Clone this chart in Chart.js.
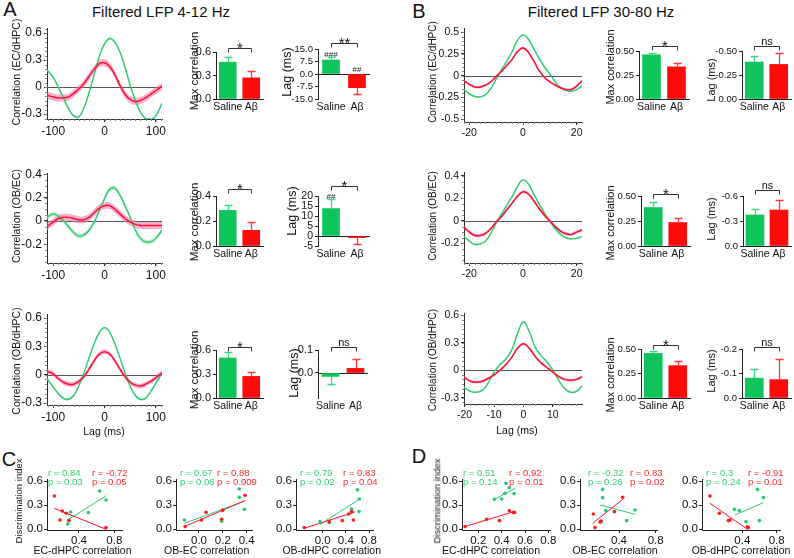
<!DOCTYPE html>
<html>
<head>
<meta charset="utf-8">
<script src="https://cdn.jsdelivr.net/npm/chart.js@4.4.1/dist/chart.umd.min.js"></script>
<style>
html,body{margin:0;padding:0;background:#fff;}
#fig{position:relative;width:794px;height:558px;overflow:hidden;background:#fff;font-family:"Liberation Sans",Arial,Helvetica,sans-serif;color:#111;}
#fig canvas{position:absolute;}
.t{position:absolute;white-space:nowrap;line-height:1;}
</style>
</head>
<body>
<div id="fig"></div>
<script>
// ================= DATA =================
const groups = ['Saline', 'Aβ'];

// ---- Panel A: filtered LFP 4-12 Hz, cross-correlation vs lag (ms)
const lagsA = [-112,-100,-90,-80,-70,-60,-50,-40,-30,-20,-10,0,10,20,30,40,50,60,70,80,90,100,112];
const a1Saline = [0.19,0.11,0.00,-0.12,-0.24,-0.32,-0.33,-0.23,-0.06,0.14,0.34,0.48,0.54,0.50,0.39,0.22,0.02,-0.15,-0.28,-0.35,-0.36,-0.32,-0.18];
const a1Abeta  = [-0.09,-0.11,-0.12,-0.12,-0.11,-0.07,-0.02,0.04,0.12,0.20,0.26,0.27,0.23,0.14,0.02,-0.08,-0.14,-0.16,-0.15,-0.12,-0.08,-0.04,0.01];
const a2Saline = [0.03,0.06,0.04,0.00,-0.05,-0.10,-0.13,-0.12,-0.08,-0.01,0.09,0.19,0.27,0.28,0.22,0.13,0.03,-0.08,-0.15,-0.18,-0.18,-0.15,-0.08];
const a2Abeta  = [-0.05,-0.01,0.02,0.03,0.03,0.02,0.01,0.01,0.03,0.07,0.11,0.13,0.13,0.10,0.06,0.02,-0.01,-0.03,-0.04,-0.04,-0.04,-0.04,-0.04];
const a3Saline = [-0.04,-0.13,-0.20,-0.25,-0.26,-0.22,-0.12,0.02,0.18,0.33,0.45,0.50,0.45,0.33,0.18,0.02,-0.12,-0.22,-0.26,-0.25,-0.18,-0.09,0.02];
const a3Abeta  = [0.035,0.01,-0.04,-0.08,-0.10,-0.10,-0.07,-0.02,0.06,0.15,0.22,0.245,0.22,0.15,0.06,-0.02,-0.08,-0.11,-0.12,-0.10,-0.07,-0.03,0.02];
const semA = {a1:[0.015,0.04], a2:[0.02,0.03], a3:[0.012,0.025]};

// ---- Panel B: filtered LFP 30-80 Hz
const lagsB = [-22,-20,-18,-16,-14,-12,-10,-8,-6,-4,-2,0,2,4,6,8,10,12,14,16,18,20,22];
const b1Saline = [-0.16,-0.21,-0.24,-0.245,-0.22,-0.15,-0.04,0.07,0.17,0.28,0.41,0.47,0.42,0.31,0.20,0.10,0.02,-0.07,-0.14,-0.17,-0.18,-0.16,-0.12];
const b1Abeta  = [-0.06,-0.10,-0.13,-0.13,-0.11,-0.07,-0.01,0.05,0.12,0.19,0.28,0.32,0.27,0.17,0.06,-0.02,-0.07,-0.11,-0.14,-0.16,-0.16,-0.12,-0.06];
const b2Saline = [-0.14,-0.18,-0.21,-0.205,-0.18,-0.11,-0.02,0.06,0.14,0.22,0.31,0.365,0.33,0.24,0.15,0.07,0.00,-0.07,-0.12,-0.15,-0.16,-0.155,-0.14];
const b2Abeta  = [-0.055,-0.10,-0.13,-0.13,-0.11,-0.07,-0.01,0.04,0.10,0.16,0.22,0.26,0.24,0.18,0.11,0.05,0.00,-0.05,-0.09,-0.115,-0.12,-0.10,-0.08];
const b3Saline = [-0.13,-0.19,-0.23,-0.24,-0.22,-0.14,-0.02,0.06,0.12,0.22,0.40,0.53,0.42,0.25,0.16,0.09,0.00,-0.11,-0.20,-0.24,-0.23,-0.17,-0.12];
const b3Abeta  = [-0.05,-0.08,-0.12,-0.13,-0.12,-0.09,-0.05,0.00,0.06,0.14,0.24,0.29,0.24,0.15,0.08,0.03,-0.02,-0.07,-0.10,-0.11,-0.10,-0.07,-0.04];
const semB = [0.008, 0.014];

// ---- Bar summaries [Saline, Aβ]
const a1MaxMean=[0.47,0.27],  a1MaxSem=[0.065,0.085];
const a1LagMean=[8.4,-8.2],   a1LagSem=[1.7,3.8];
const a2MaxMean=[0.285,0.125],a2MaxSem=[0.045,0.068];
const a2LagMean=[13.7,-0.8],  a2LagSem=[5.0,3.0];
const a3MaxMean=[0.50,0.27],  a3MaxSem=[0.075,0.05];
const a3LagMean=[-0.015,0.02],a3LagSem=[0.035,0.04];
const b1MaxMean=[0.46,0.335], b1MaxSem=[0.02,0.045];
const b1LagMean=[-0.385,-0.36],b1LagSem=[0.065,0.12];
const b2MaxMean=[0.385,0.235],b2MaxSem=[0.055,0.05];
const b2LagMean=[-0.372,-0.432],b2LagSem=[0.068,0.12];
const b3MaxMean=[0.455,0.33], b3MaxSem=[0.025,0.05];
const b3LagMean=[-0.081,-0.075],b3LagSem=[0.039,0.085];

// ---- Tick labels
const tkLagA=[-100,0,100], tkLagB=[-20,0,20], tkLagB3=[-20,-10,0,10];
const tkCorrA1=[-0.3,0,0.3,0.6], tkCorrA2=[-0.2,0,0.2,0.4], tkCorrA3=[-0.3,0,0.3,0.6];
const tkCorrB1=[-0.5,-0.25,0,0.25,0.5], tkCorrB2=[-0.2,0,0.2,0.4], tkCorrB3=[-0.3,0,0.3,0.6];
const tkMaxA1=[0,0.3,0.6], tkMaxA2=[0,0.2,0.4], tkMaxA3=[0,0.3,0.6];
const tkLagBarA1=[-15,-7.5,0,7.5,15], tkLagBarA2=[-5,0,5,10,15,20], tkLagBarA3=[0,0.1];
const tkMaxB=[0,0.25,0.5];
const tkLagBarB1=[-0.5,-0.25,0], tkLagBarB2=[-0.6,-0.3,0], tkLagBarB3=[-0.2,-0.1,0];
const tkDI=[0,0.3,0.6];

// ---- Panels C & D: discrimination index vs correlation (Saline = green, Aβ = red)
const c1SalX=[0.272,0.306,0.506,0.634,0.706,0.285], c1SalY=[0.066,0.215,0.207,0.476,0.364,0.11];
const c1AbX=[0.121,0.185,0.211,0.257,0.287,0.706],  c1AbY=[0.414,0.116,0.228,0.199,0.108,0.021];
const c1SalFitX=[0.26,0.71], c1SalFitY=[0.108,0.418];
const c1AbFitX=[0.121,0.706], c1AbFitY=[0.26,0.0];
const c2SalX=[-0.123,0.19,0.199,0.338,0.338,0.38], c2SalY=[0.116,0.099,0.24,0.50,0.397,0.248];
const c2AbX=[-0.117,0.02,0.059,0.19,0.199,0.386],  c2AbY=[0.033,0.116,0.211,0.124,0.235,0.422];
const c2SalFitX=[-0.123,0.386], c2SalFitY=[0.074,0.352];
const c2AbFitX=[-0.123,0.386], c2AbFitY=[0.033,0.356];
const c3SalX=[-0.046,0.115,0.50,0.60,0.633,0.627], c3SalY=[0.095,0.083,0.25,0.49,0.376,0.22];
const c3AbX=[-0.317,0.115,0.34,0.45,0.50,0.53],    c3AbY=[0.021,0.095,0.108,0.19,0.22,0.116];
const c3SalFitX=[-0.046,0.645], c3SalFitY=[0.06,0.38];
const c3AbFitX=[-0.317,0.555], c3AbFitY=[0.012,0.215];
const d1SalX=[0.337,0.40,0.429,0.437,0.463,0.506], d1SalY=[0.372,0.376,0.447,0.571,0.517,0.443];
const d1AbX=[0.086,0.271,0.38,0.466,0.50,0.51],     d1AbY=[0.033,0.124,0.108,0.23,0.207,0.21];
const d1SalFitX=[0.329,0.514], d1SalFitY=[0.364,0.509];
const d1AbFitX=[0.086,0.50], d1AbFitY=[0.033,0.219];
const d2SalX=[0.222,0.222,0.207,0.255,0.484,0.575], d2SalY=[0.496,0.393,0.095,0.232,0.107,0.24];
const d2AbX=[0.12,0.138,0.204,0.349,0.44,0.193],    d2AbY=[0.19,0.021,0.103,0.219,0.397,0.091];
const d2SalFitX=[0.193,0.575], d2SalFitY=[0.302,0.186];
const d2AbFitX=[0.113,0.44], d2AbFitY=[0.074,0.372];
const d3SalX=[0.307,0.365,0.443,0.598,0.575,0.645], d3SalY=[0.248,0.232,0.095,0.108,0.496,0.393];
const d3AbX=[0.023,0.132,0.237,0.256,0.47,0.46],    d3AbY=[0.414,0.199,0.108,0.116,0.021,0.03];
const d3SalFitX=[0.315,0.645], d3SalFitY=[0.178,0.331];
const d3AbFitX=[0.023,0.458], d3AbFitY=[0.323,0.0];
const statsSal = [['r = 0.84','p = 0.03'],['r = 0.67','p = 0.06'],['r = 0.79','p = 0.02'],['r = 0.51','p = 0.14'],['r = -0.32','p = 0.26'],['r = 0.3','p = 0.24']];
const statsAb  = [['r = -0.72','p = 0.05'],['r = 0.88','p = 0.009'],['r = 0.83','p = 0.04'],['r = 0.92','p = 0.01'],['r = 0.83','p = 0.02'],['r = -0.91','p = 0.01']];

// ================= STYLE / HELPERS =================
const FONT='"Liberation Sans", Arial, Helvetica, sans-serif';
Chart.defaults.font.family = FONT;
Chart.defaults.color = '#111';
const GREEN='#10c45c', RED='#ff0a0a', GERR='#3fd88a', RERR='#ff3a3a';
const GLINE='#2ccb6e', RLINE='#ff1030';
const GBAND='rgba(160,225,180,0.6)', RBAND='rgba(240,110,170,0.55)';
const GPT='#25c96c', RPT='#ff1a1a';
const AX='#333';
const fig=document.getElementById('fig');

function txt(s, x, y, size, o={}){
  const d=document.createElement('div');
  d.className='t'; d.textContent=s; d.style.fontSize=size+'px';
  d.style.color=o.color||'#111';
  d.style.left=x+'px'; d.style.top=y+'px';
  d.style.transform = o.rot ? 'translate(-50%,-50%) rotate(-90deg)' : (o.left ? 'translate(0,-50%)' : 'translate(-50%,-50%)');
  fig.appendChild(d);
}
function fixTicks(vals){ return s=>{ s.ticks = vals.map(v=>({value:v})); }; }
const fmtPlain = v => (Math.abs(v)<1e-9 ? '0' : String(Math.round(v*1000)/1000));
const fmtDec = d => v => Number(v).toFixed(d);

function place(area, pad, cfg){
  const [x0,y0,x1,y1]=area;
  const w=x1-x0+pad.l+pad.r, h=y1-y0+pad.t+pad.b;
  const c=document.createElement('canvas');
  c.width=w; c.height=h;
  c.style.left=(x0-pad.l)+'px'; c.style.top=(y0-pad.t)+'px';
  c.style.width=w+'px'; c.style.height=h+'px';
  fig.appendChild(c);
  const o=cfg.options;
  o.responsive=false; o.maintainAspectRatio=false; o.animation=false; o.devicePixelRatio=1;
  o.layout={padding:{left:0,top:pad.t,right:pad.r,bottom:0}};
  o.plugins=Object.assign({legend:{display:false},tooltip:{enabled:false}},o.plugins||{});
  o.scales.x.afterFit=s=>{s.height=pad.b;};
  o.scales.y.afterFit=s=>{s.width=pad.l;};
  return new Chart(c,cfg);
}

// zero reference line + fine minor ticks along the axes (line charts)
function makeLinePlugin(minorX, minorY){
  return {
    id:'lineDeco',
    beforeDatasetsDraw(chart){
      const {ctx,chartArea:a,scales:{x,y}}=chart;
      ctx.save();
      const py=Math.round(y.getPixelForValue(0))+0.5;
      ctx.strokeStyle='#555'; ctx.lineWidth=1;
      ctx.beginPath(); ctx.moveTo(a.left,py); ctx.lineTo(a.right,py); ctx.stroke();
      ctx.strokeStyle='#888'; ctx.lineWidth=1;
      ctx.beginPath();
      for(let v=Math.ceil(y.min/minorY)*minorY; v<=y.max+1e-9; v+=minorY){
        const p=Math.round(y.getPixelForValue(v))+0.5;
        ctx.moveTo(a.left-2,p); ctx.lineTo(a.left,p);
      }
      for(let v=Math.ceil(x.min/minorX)*minorX; v<=x.max+1e-9; v+=minorX){
        const p=Math.round(x.getPixelForValue(v))+0.5;
        ctx.moveTo(p,a.bottom); ctx.lineTo(p,a.bottom+2);
      }
      ctx.stroke();
      ctx.restore();
    }
  };
}

function lineChart(area, pad, c){
  const P=(arr,off)=>c.lags.map((l,i)=>({x:l,y:arr[i]+off}));
  const base={pointRadius:0,tension:0.4,borderWidth:0};
  const ds=[
    Object.assign({},base,{data:P(c.sal,c.sem[0]),fill:'+1',backgroundColor:GBAND,order:4}),
    Object.assign({},base,{data:P(c.sal,-c.sem[0]),fill:false,order:4}),
    Object.assign({},base,{data:P(c.ab,c.sem[1]),fill:'+1',backgroundColor:RBAND,order:3}),
    Object.assign({},base,{data:P(c.ab,-c.sem[1]),fill:false,order:3}),
    Object.assign({},base,{data:P(c.sal,0),borderColor:GLINE,borderWidth:1.4,fill:false,order:1}),
    Object.assign({},base,{data:P(c.ab,0),borderColor:RLINE,borderWidth:1.5,fill:false,order:0}),
  ];
  const axis=(vals,fmt,size)=>({
    afterBuildTicks:fixTicks(vals),
    ticks:{font:{size},color:'#111',padding:2,autoSkip:false,maxRotation:0,callback:fmt},
    grid:{drawOnChartArea:false,drawTicks:true,tickLength:3,color:AX},
    border:{display:true,color:AX,width:1}
  });
  return place(area,pad,{
    type:'line',
    data:{datasets:ds},
    options:{
      scales:{
        x:Object.assign({type:'linear',min:c.xr[0],max:c.xr[1]},axis(c.xt,fmtPlain,c.fs)),
        y:Object.assign({type:'linear',min:c.yr[0],max:c.yr[1]},axis(c.yt,fmtPlain,c.fs))
      }
    },
    plugins:[makeLinePlugin(c.mx,c.my)]
  });
}

function barChart(area, pad, c){
  const deco={
    id:'barDeco',
    beforeDatasetsDraw(chart){
      if(!c.zero) return;
      const {ctx,chartArea:a,scales:{y}}=chart;
      const py=Math.round(y.getPixelForValue(0))+0.5;
      ctx.save(); ctx.strokeStyle='#222'; ctx.lineWidth=1;
      ctx.beginPath(); ctx.moveTo(a.left,py); ctx.lineTo(a.right,py); ctx.stroke(); ctx.restore();
    },
    afterDatasetsDraw(chart){
      const {ctx,chartArea:a,scales:{x,y}}=chart;
      ctx.save();
      const capY=[];
      c.means.forEach((m,i)=>{
        const cx=Math.round(x.getPixelForValue(i))+0.5;
        const s=m<0?-1:1;
        const yb=y.getPixelForValue(m);
        const ye=Math.round(y.getPixelForValue(m+s*c.sem[i]))+0.5;
        capY.push(ye);
        ctx.strokeStyle=i===0?GERR:RERR; ctx.lineWidth=1.3;
        ctx.beginPath(); ctx.moveTo(cx,yb); ctx.lineTo(cx,ye); ctx.moveTo(cx-4,ye); ctx.lineTo(cx+4,ye); ctx.stroke();
      });
      if(c.sig){
        const by=Math.round(a.top-c.sigOff)+0.5;
        const x0=Math.round(x.getPixelForValue(0))+0.5, x1=Math.round(x.getPixelForValue(1))+0.5;
        ctx.strokeStyle='#333'; ctx.lineWidth=1;
        ctx.beginPath(); ctx.moveTo(x0,by+4); ctx.lineTo(x0,by); ctx.lineTo(x1,by); ctx.lineTo(x1,by+4); ctx.stroke();
        ctx.fillStyle='#111'; ctx.textAlign='center'; ctx.textBaseline='alphabetic';
        if(c.sig==='ns'){ ctx.font='11px '+FONT; ctx.fillText('ns',(x0+x1)/2,by-2); }
        else { ctx.font='15px '+FONT; ctx.fillText(c.sig,(x0+x1)/2,by+4); }
      }
      (c.notes||[]).forEach(n=>{
        const cx=x.getPixelForValue(n.i);
        const py = n.at==='zero' ? y.getPixelForValue(0)-2 : capY[n.i]-1;
        ctx.font='8px '+FONT; ctx.fillStyle='#222'; ctx.textAlign='center'; ctx.textBaseline='alphabetic';
        ctx.fillText(n.t,cx,py);
      });
      ctx.restore();
    }
  };
  return place(area,pad,{
    type:'bar',
    data:{labels:groups,datasets:[{data:c.means,backgroundColor:[GREEN,RED],barThickness:c.bw||17,borderWidth:0}]},
    options:{
      scales:{
        x:{ticks:{font:{size:10.5},color:'#111',padding:c.xpad||2,maxRotation:0,autoSkip:false},
           grid:{display:false,drawTicks:false},border:{display:!c.zero,color:'#222',width:1}},
        y:{type:'linear',min:c.yr[0],max:c.yr[1],reverse:!!c.reverse,afterBuildTicks:fixTicks(c.yt),
           ticks:{font:{size:c.fs||11},color:'#111',padding:2,autoSkip:false,callback:fmtDec(c.dec)},
           grid:{drawOnChartArea:false,drawTicks:true,tickLength:3,color:'#222'},border:{color:'#222',width:1}}
      }
    },
    plugins:[deco]
  });
}

function scatterChart(area, pad, c){
  const P=(xs,ys)=>xs.map((v,i)=>({x:v,y:ys[i]}));
  return place(area,pad,{
    type:'scatter',
    data:{datasets:[
      {data:P(c.gfx,c.gfy),showLine:true,borderColor:GLINE,borderWidth:1,pointRadius:0,order:3},
      {data:P(c.rfx,c.rfy),showLine:true,borderColor:RLINE,borderWidth:1,pointRadius:0,order:2},
      {data:P(c.gx,c.gy),backgroundColor:GPT,borderWidth:0,pointRadius:1.8,order:1},
      {data:P(c.rx,c.ry),backgroundColor:RPT,borderWidth:0,pointRadius:1.8,order:0},
    ]},
    options:{
      scales:{
        x:{type:'linear',min:c.xr[0],max:c.xr[1],afterBuildTicks:fixTicks(c.xt),
           ticks:{font:{size:11.5},color:'#111',padding:1,autoSkip:false,maxRotation:0,callback:fmtDec(1)},
           grid:{drawOnChartArea:false,drawTicks:true,tickLength:3,color:'#222'},border:{color:'#222'}},
        y:{type:'linear',min:-0.009,max:0.625,afterBuildTicks:fixTicks(tkDI),
           ticks:{font:{size:11.5},color:'#111',padding:1,autoSkip:false,callback:fmtDec(1)},
           grid:{drawOnChartArea:false,drawTicks:true,tickLength:3,color:'#222'},border:{color:'#222'}}
      }
    }
  });
}

// ================= BUILD =================
txt('A',10,9,20); txt('B',419,11,20); txt('C',9,459,20); txt('D',419,456,20);
txt('Filtered LFP 4-12 Hz',161,11,15); txt('Filtered LFP 30-80 Hz',601,11,15);

// --- A line charts
const padLA={l:42,t:8,r:14,b:26};
lineChart([47,27,162,119],padLA,{lags:lagsA,sal:a1Saline,ab:a1Abeta,sem:semA.a1,xr:[-112,112],yr:[-0.355,0.655],xt:tkLagA,yt:tkCorrA1,fs:12,mx:10,my:0.05});
lineChart([47,172,162,263],padLA,{lags:lagsA,sal:a2Saline,ab:a2Abeta,sem:semA.a2,xr:[-112,112],yr:[-0.361,0.4085],xt:tkLagA,yt:tkCorrA2,fs:12,mx:10,my:0.05});
lineChart([47,313,162,405],padLA,{lags:lagsA,sal:a3Saline,ab:a3Abeta,sem:semA.a3,xr:[-112,112],yr:[-0.321,0.642],xt:tkLagA,yt:tkCorrA3,fs:12,mx:10,my:0.05});
txt('Correlation (EC/dHPC)',16,72,10.5,{rot:true});
txt('Correlation (OB/EC)',16,216,10.5,{rot:true});
txt('Correlation (OB/dHPC)',16,361,10.5,{rot:true});
txt('Lag (ms)',104,431,10.5);

// --- B line charts
const padLB={l:40,t:8,r:14,b:24};
lineChart([464,28,582,122],padLB,{lags:lagsB,sal:b1Saline,ab:b1Abeta,sem:semB,xr:[-22,22],yr:[-0.534,0.546],xt:tkLagB,yt:tkCorrB1,fs:10.5,mx:2,my:0.05});
lineChart([464,172,582,263],padLB,{lags:lagsB,sal:b2Saline,ab:b2Abeta,sem:semB,xr:[-22,22],yr:[-0.3748,0.4328],xt:tkLagB,yt:tkCorrB2,fs:10.5,mx:2,my:0.05});
lineChart([464,313,582,404],padLB,{lags:lagsB,sal:b3Saline,ab:b3Abeta,sem:semB,xr:[-20.2,19.9],yr:[-0.3686,0.6218],xt:tkLagB3,yt:tkCorrB3,fs:10.5,mx:2,my:0.05});
txt('Correlation (EC/dHPC)',433,72,10,{rot:true});
txt('Correlation (OB/EC)',433,216,10,{rot:true});
txt('Correlation (OB/dHPC)',433,360,10,{rot:true});
txt('Lag (ms)',517,430,10.5);

// --- A bars
const padB={l:32,t:22,r:4,b:18};
barChart([216,52,263,99],padB,{means:a1MaxMean,sem:a1MaxSem,yr:[0,0.6],yt:tkMaxA1,dec:1,sig:'*',sigOff:4});
barChart([318,49,370,99],padB,{means:a1LagMean,sem:a1LagSem,yr:[-15,15],yt:tkLagBarA1,dec:1,sig:'**',sigOff:6,zero:true,fs:9.5,
  notes:[{t:'###',i:0,at:'cap'},{t:'##',i:1,at:'zero'}]});
barChart([216,196,263,246],padB,{means:a2MaxMean,sem:a2MaxSem,yr:[0,0.4],yt:tkMaxA2,dec:1,sig:'*',sigOff:7});
barChart([318,196,370,246],padB,{means:a2LagMean,sem:a2LagSem,yr:[-5,20],yt:tkLagBarA2,dec:0,sig:'*',sigOff:10,zero:true,fs:10.5,
  notes:[{t:'##',i:0,at:'cap'}]});
barChart([216,350,263,398],padB,{means:a3MaxMean,sem:a3MaxSem,yr:[0,0.6],yt:tkMaxA3,dec:1,sig:'*',sigOff:3});
barChart([318,350,368,398],padB,{means:a3LagMean,sem:a3LagSem,yr:[-0.1087,0.1],yt:tkLagBarA3,dec:1,sig:'ns',sigOff:3,zero:true});
txt('Max correlation',195,71,11.5,{rot:true});
txt('Max correlation',195,222,11.5,{rot:true});
txt('Max correlation',195,370,11.5,{rot:true});
txt('Lag (ms)',287,72,12.5,{rot:true});
txt('Lag (ms)',292,211,12.5,{rot:true});
txt('Lag (ms)',294,373,12.5,{rot:true});

// --- B bars
barChart([639,51,689,99],padB,{means:b1MaxMean,sem:b1MaxSem,yr:[0,0.5],yt:tkMaxB,dec:2,sig:'*',sigOff:5,bw:18,fs:9.5});
barChart([742,51,791,99],padB,{means:b1LagMean,sem:b1LagSem,yr:[-0.5,0],reverse:true,yt:tkLagBarB1,dec:2,sig:'ns',sigOff:5,bw:18,fs:9.5});
barChart([641,196,690,246],padB,{means:b2MaxMean,sem:b2MaxSem,yr:[0,0.5],yt:tkMaxB,dec:2,sig:'*',sigOff:2,bw:18,fs:9.5});
barChart([743,196,791,246],padB,{means:b2LagMean,sem:b2LagSem,yr:[-0.6,0],reverse:true,yt:tkLagBarB2,dec:1,sig:'ns',sigOff:6,bw:18,fs:9.5});
barChart([641,349,690,398],padB,{means:b3MaxMean,sem:b3MaxSem,yr:[0,0.5],yt:tkMaxB,dec:2,sig:'*',sigOff:4,bw:18,fs:9.5});
barChart([742,349,791,398],padB,{means:b3LagMean,sem:b3LagSem,yr:[-0.2,0],reverse:true,yt:tkLagBarB3,dec:1,sig:'ns',sigOff:2,bw:18,fs:9.5});
txt('Max correlation',610,67,11,{rot:true});
txt('Max correlation',610,223,11,{rot:true});
txt('Max correlation',610,375,11,{rot:true});
txt('Lag (ms)',711,80,11,{rot:true});
txt('Lag (ms)',711,219,11,{rot:true});
txt('Lag (ms)',711,371,11,{rot:true});

// --- C & D scatter
const padS={l:24,t:8,r:10,b:16};
scatterChart([47,479,122,530],padS,{xr:[0.038,0.887],xt:[0.4,0.8],gx:c1SalX,gy:c1SalY,rx:c1AbX,ry:c1AbY,gfx:c1SalFitX,gfy:c1SalFitY,rfx:c1AbFitX,rfy:c1AbFitY});
scatterChart([176,479,252,530],padS,{xr:[-0.193,0.445],xt:[0,0.2,0.4],gx:c2SalX,gy:c2SalY,rx:c2AbX,ry:c2AbY,gfx:c2SalFitX,gfy:c2SalFitY,rfx:c2AbFitX,rfy:c2AbFitY});
scatterChart([296,479,373,530],padS,{xr:[-0.46,0.869],xt:[0,0.4,0.8],gx:c3SalX,gy:c3SalY,rx:c3AbX,ry:c3AbY,gfx:c3SalFitX,gfy:c3SalFitY,rfx:c3AbFitX,rfy:c3AbFitY});
scatterChart([462,479,550,530],padS,{xr:[0.06,0.814],xt:[0.2,0.4,0.6,0.8],gx:d1SalX,gy:d1SalY,rx:d1AbX,ry:d1AbY,gfx:d1SalFitX,gfy:d1SalFitY,rfx:d1AbFitX,rfy:d1AbFitY});
scatterChart([580,479,657,530],padS,{xr:[-0.0255,0.8145],xt:[0.4,0.8],gx:d2SalX,gy:d2SalY,rx:d2AbX,ry:d2AbY,gfx:d2SalFitX,gfy:d2SalFitY,rfx:d2AbFitX,rfy:d2AbFitY});
scatterChart([702,479,780,530],padS,{xr:[-0.07,0.839],xt:[0.4,0.8],gx:d3SalX,gy:d3SalY,rx:d3AbX,ry:d3AbY,gfx:d3SalFitX,gfy:d3SalFitY,rfx:d3AbFitX,rfy:d3AbFitY});
txt('Discrimination index',19,501,9.5,{rot:true});
txt('Discrimination index',437,501,9.5,{rot:true});
const scTitles=['EC-dHPC correlation','OB-EC correlation','OB-dHPC correlation','EC-dHPC correlation','OB-EC correlation','OB-dHPC correlation'];
const scTitleX=[82.5,206.7,331.7,491,615,741];
const statSalLeft=[48,180,300,463,588,706], statAbLeft=[92,217,343,509,630,748];
scTitles.forEach((s,i)=>txt(s,scTitleX[i],550,10.5));
statsSal.forEach((p,i)=>{ txt(p[0],statSalLeft[i],473,9.5,{left:true,color:'#2fcf74'}); txt(p[1],statSalLeft[i],481.5,9.5,{left:true,color:'#2fcf74'}); });
statsAb.forEach((p,i)=>{ txt(p[0],statAbLeft[i],473,9.5,{left:true,color:'#ff2a2a'}); txt(p[1],statAbLeft[i],481.5,9.5,{left:true,color:'#ff2a2a'}); });
</script>
</body>
</html>
